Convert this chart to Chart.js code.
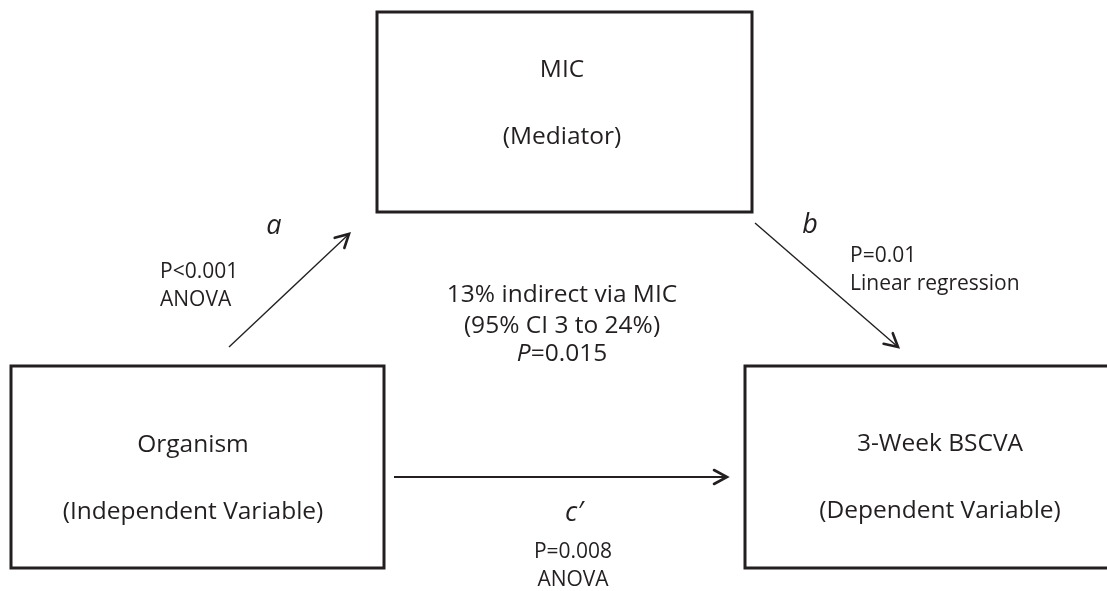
<!DOCTYPE html>
<html>
<head>
<meta charset="utf-8">
<script src="https://cdn.jsdelivr.net/npm/chart.js@4.4.0/dist/chart.umd.min.js"></script>
<style>
  html, body { margin: 0; padding: 0; background: #fff; }
  #wrap { width: 1107px; height: 591px; position: relative; }
</style>
</head>
<body>
<div id="wrap"><canvas id="mediation-chart"></canvas></div>
<script>
// Mediation diagram content
const nodeNames = ['MIC', 'Organism', '3-Week BSCVA'];
const nodeRoles = ['(Mediator)', '(Independent Variable)', '(Dependent Variable)'];
const pathNames = ['a', 'b', 'c\u2032'];
const pathStats = [['P<0.001', 'ANOVA'], ['P=0.01', 'Linear regression'], ['P=0.008', 'ANOVA']];
const indirectEffect = ['13% indirect via MIC', '(95% CI 3 to 24%)', '=0.015'];

// layout in picture units (x right, y down)
const boxes = [
  { x0: 377, y0: 12, x1: 752, y1: 212 },
  { x0: 11, y0: 366, x1: 384, y1: 568 },
  { x0: 745, y0: 366, x1: 1110, y1: 568 }
];
const arrows = [
  { from: [229, 347], to: [349, 234] },
  { from: [755, 223], to: [898, 347] },
  { from: [394, 477], to: [727, 477] }
];

const boxData = boxes.map(b => [
  { x: b.x0, y: b.y0 }, { x: b.x1, y: b.y0 }, { x: b.x1, y: b.y1 },
  { x: b.x0, y: b.y1 }, { x: b.x0, y: b.y0 }, { x: b.x1, y: b.y0 }
]);

function headPoints(a) {
  const dx = a.to[0] - a.from[0], dy = a.to[1] - a.from[1];
  const len = Math.sqrt(dx * dx + dy * dy);
  const ux = dx / len, uy = dy / len;
  const s = 13, w = 7;
  return [
    { x: a.to[0] - ux * s - uy * w, y: a.to[1] - uy * s + ux * w },
    { x: a.to[0], y: a.to[1] },
    { x: a.to[0] - ux * s + uy * w, y: a.to[1] - uy * s - ux * w }
  ];
}

const datasets = [];
boxData.forEach((d, i) => {
  datasets.push({ label: nodeNames[i], data: d, showLine: true, borderColor: '#231f20',
    borderWidth: 3, pointRadius: 0, fill: false, tension: 0, borderJoinStyle: 'miter' });
});
arrows.forEach((a, i) => {
  datasets.push({ label: pathNames[i], data: [{ x: a.from[0], y: a.from[1] }, { x: a.to[0], y: a.to[1] }],
    showLine: true, borderColor: '#231f20', borderWidth: i == 2 ? 2 : 1.4, pointRadius: 0, fill: false });
  datasets.push({ label: pathNames[i] + ' head', data: headPoints(a), showLine: true,
    borderColor: '#231f20', borderWidth: 2.6, pointRadius: 0, fill: false, borderCapStyle: 'round' });
});

const FONT = '"Open Sans", "DejaVu Sans", sans-serif';
const BIG = 24.5, SMALL = 21;
const texts = [
  { t: nodeNames[0], x: 562, y: 70, size: BIG },
  { t: nodeRoles[0], x: 562, y: 137, size: BIG },
  { t: nodeNames[1], x: 193, y: 445, size: BIG },
  { t: nodeRoles[1], x: 193, y: 512, size: BIG },
  { t: nodeNames[2], x: 940, y: 444, size: BIG },
  { t: nodeRoles[2], x: 940, y: 511, size: BIG },
  { t: pathNames[0], x: 274, y: 226, size: 27, italic: true },
  { t: pathNames[1], x: 810, y: 225, size: 27, italic: true },
  { t: pathNames[2], x: 574, y: 513, size: 27, italic: true },
  { t: pathStats[0][0], x: 160, y: 272, size: SMALL, align: 'left' },
  { t: pathStats[0][1], x: 160, y: 300, size: SMALL, align: 'left' },
  { t: pathStats[1][0], x: 850, y: 256, size: SMALL, align: 'left' },
  { t: pathStats[1][1], x: 850, y: 284, size: SMALL, align: 'left' },
  { t: pathStats[2][0], x: 573, y: 552, size: SMALL },
  { t: pathStats[2][1], x: 573, y: 580, size: SMALL },
  { t: indirectEffect[0], x: 562, y: 295, size: BIG },
  { t: indirectEffect[1], x: 562, y: 326, size: BIG }
];

const labelPlugin = {
  id: 'diagramText',
  afterDatasetsDraw(chart) {
    const ctx = chart.ctx, xs = chart.scales.x, ys = chart.scales.y;
    ctx.save();
    ctx.fillStyle = '#231f20';
    ctx.textBaseline = 'middle';
    texts.forEach(o => {
      ctx.font = (o.italic ? 'italic ' : '') + o.size + 'px ' + FONT;
      ctx.textAlign = o.align || 'center';
      ctx.fillText(o.t, xs.getPixelForValue(o.x), ys.getPixelForValue(o.y));
    });
    // "P=0.015" with italic P
    ctx.font = 'italic ' + BIG + 'px ' + FONT;
    const pw = ctx.measureText('P').width;
    ctx.font = BIG + 'px ' + FONT;
    const rw = ctx.measureText(indirectEffect[2]).width;
    const cx = xs.getPixelForValue(562), cy = ys.getPixelForValue(354);
    const left = cx - (pw + rw) / 2;
    ctx.textAlign = 'left';
    ctx.font = 'italic ' + BIG + 'px ' + FONT;
    ctx.fillText('P', left, cy);
    ctx.font = BIG + 'px ' + FONT;
    ctx.fillText(indirectEffect[2], left + pw, cy);
    ctx.restore();
  }
};

new Chart(document.getElementById('mediation-chart'), {
  type: 'scatter',
  data: { datasets: datasets },
  options: {
    responsive: true,
    maintainAspectRatio: false,
    animation: false,
    layout: { padding: 0 },
    plugins: { legend: { display: false }, tooltip: { enabled: false } },
    scales: {
      x: { type: 'linear', min: 0, max: 1107, display: false },
      y: { type: 'linear', min: 0, max: 591, reverse: true, display: false }
    }
  },
  plugins: [labelPlugin]
});
</script>
</body>
</html>
